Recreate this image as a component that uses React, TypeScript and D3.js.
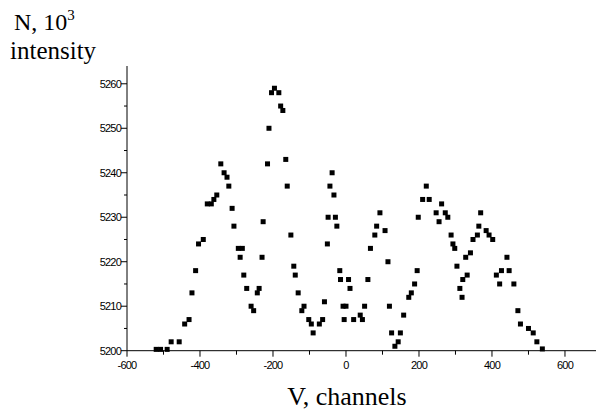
import React from "react";
import * as d3 from "d3";

const xValues: number[] = [
  -520, -508, -490, -479, -457, -442, -430, -422, -412, -404, -391, -380, -369, -362, -354,
  -343, -334, -326, -321, -312, -307, -295, -290, -284, -280, -272, -260, -253, -243, -238,
  -230, -227, -215, -211, -204, -196, -184, -179, -173, -165, -161, -151, -143, -139, -131,
  -121, -115, -102, -95, -90, -73, -64, -59, -51, -49, -44, -38, -33, -29, -25,
  -17, -15, -8, -5, 0, 7, 11, 21, 39, 45, 51, 60, 67, 79, 84,
  93, 107, 115, 119, 125, 134, 143, 149, 158, 172, 179, 188, 195, 198, 210,
  220, 228, 247, 255, 262, 272, 279, 288, 293, 298, 304, 312, 318, 320, 328,
  332, 341, 348, 360, 364, 369, 384, 392, 402, 412, 421, 426, 441, 447, 460,
  471, 478, 500, 513, 523, 538,
];
const yValues: number[] = [
  5200.3, 5200.3, 5200.3, 5202, 5202, 5206, 5207, 5213, 5218, 5224, 5225, 5233, 5233, 5234, 5235,
  5242, 5240, 5239, 5237, 5232, 5228, 5223, 5221, 5223, 5217, 5214, 5210, 5209, 5213, 5214,
  5221, 5229, 5242, 5250, 5258, 5259, 5258, 5255, 5254, 5243, 5237, 5226, 5219, 5217, 5213,
  5209, 5210, 5207, 5206, 5204, 5206, 5207, 5211, 5224, 5230, 5237, 5240, 5235, 5230, 5228,
  5218, 5216, 5210, 5207, 5210, 5216, 5214, 5207, 5208, 5207, 5210, 5216, 5223, 5226, 5228,
  5231, 5227, 5220, 5210, 5204, 5201, 5202, 5204, 5208, 5212, 5213, 5215, 5218, 5230, 5234,
  5237, 5234, 5231, 5229, 5233, 5231, 5230, 5226, 5224, 5223, 5219, 5214, 5212, 5216, 5221,
  5217, 5222, 5225, 5226, 5228, 5231, 5227, 5226, 5225, 5217, 5215, 5218, 5221, 5218, 5215,
  5209, 5206, 5205, 5204, 5202, 5200.4,
];
const xTickValues: number[] = [-600, -400, -200, 0, 200, 400, 600];
const xMinorTicks: number[] = [-500, -300, -100, 100, 300, 500];
const yTickValues: number[] = [5200, 5210, 5220, 5230, 5240, 5250, 5260];
const yMinorTicks: number[] = [5205, 5215, 5225, 5235, 5245, 5255];

export default function App() {
  const W = 596;
  const H = 410;
  const x = d3.scaleLinear().domain([-600, 685]).range([127, 596]);
  const y = d3.scaleLinear().domain([5200, 5264]).range([350.7, 66]);
  const pts = xValues.map((v, i) => [v, yValues[i]] as [number, number]);
  const tickFont = "'Liberation Sans', Arial, sans-serif";
  const serif = "'Liberation Serif', 'Times New Roman', serif";
  const x0 = x(-600);
  const y0 = y(5200);
  return (
    <svg
      width={W}
      height={H}
      style={{ position: "absolute", left: 0, top: 0, background: "#fff" }}
    >
      <rect x={0} y={0} width={W} height={H} fill="#fff" />
      {/* title text */}
      <text x={14} y={30} fontFamily={serif} fontSize={24} fill="#000">
        N, 10
        <tspan dy={-10} fontSize={15}>3</tspan>
      </text>
      <text x={10} y={59} fontFamily={serif} fontSize={25} fill="#000">
        intensity
      </text>
      <text x={347} y={405} fontFamily={serif} fontSize={26} fill="#000" textAnchor="middle">
        V, channels
      </text>

      {/* axes */}
      <line x1={x0} x2={x0} y1={66} y2={y0} stroke="#000" strokeWidth={1} />
      <line x1={x0} x2={W} y1={y0} y2={y0} stroke="#000" strokeWidth={1} />

      {yTickValues.map((t) => (
        <g key={"yt" + t}>
          <line x1={x0 - 6} x2={x0} y1={y(t)} y2={y(t)} stroke="#000" />
          <text
            x={x0 - 6}
            y={y(t)}
            dy="0.35em"
            textAnchor="end"
            fontFamily={tickFont}
            fontSize={11}
            letterSpacing={-0.8}
            fill="#000"
          >
            {t}
          </text>
        </g>
      ))}
      {yMinorTicks.map((t) => (
        <line key={"ym" + t} x1={x0 - 3} x2={x0} y1={y(t)} y2={y(t)} stroke="#000" />
      ))}
      {xTickValues.map((t) => (
        <g key={"xt" + t}>
          <line x1={x(t)} x2={x(t)} y1={y0} y2={y0 + 6} stroke="#000" />
          <text
            x={x(t)}
            y={y0 + 10}
            dy="0.71em"
            textAnchor="middle"
            fontFamily={tickFont}
            fontSize={11}
            letterSpacing={-0.8}
            fill="#000"
          >
            {t}
          </text>
        </g>
      ))}
      {xMinorTicks.map((t) => (
        <line key={"xm" + t} x1={x(t)} x2={x(t)} y1={y0} y2={y0 + 4} stroke="#000" />
      ))}

      {/* data points */}
      {pts.map(([a, b], i) => (
        <rect
          key={i}
          x={x(a) - 2.5}
          y={y(b) - 2.5}
          width={5}
          height={5}
          fill="#000"
        />
      ))}
    </svg>
  );
}
